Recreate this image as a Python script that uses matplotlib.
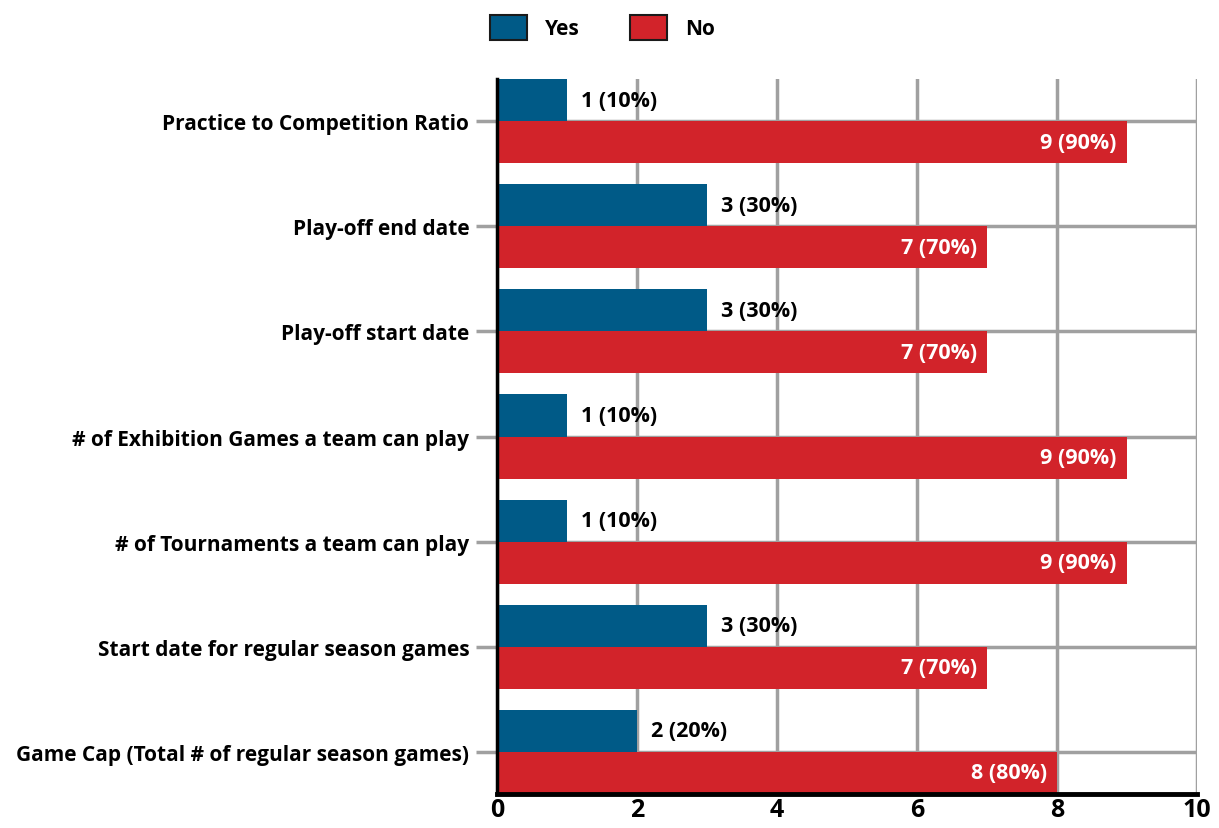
import numpy as np
import matplotlib.pyplot as plt

categories = [
    "Game Cap (Total # of regular season games)",
    "Start date for regular season games",
    "# of Tournaments a team can play",
    "# of Exhibition Games a team can play",
    "Play-off start date",
    "Play-off end date",
    "Practice to Competition Ratio",
]
yes_counts = [2, 3, 1, 1, 3, 3, 1]
no_counts = [8, 7, 9, 9, 7, 7, 9]
total = 10

blue = "#005a87"
red = "#d2232a"
grid_col = "#a0a0a0"

plt.rcParams["font.family"] = ["Open Sans", "DejaVu Sans"]
plt.rcParams["font.weight"] = "bold"

fig = plt.figure(figsize=(12.19, 8.29), dpi=100)
ax = fig.add_axes([0.4077, 0.041, 0.5745, 0.8625])

y = np.arange(len(categories))
h = 0.4
ax.barh(y + h / 2, yes_counts, height=h, color=blue, label="Yes", zorder=3)
ax.barh(y - h / 2, no_counts, height=h, color=red, label="No", zorder=3)

# value labels: Yes outside the bar, No inside in white
for yi, v in zip(y, yes_counts):
    ax.text(v + 0.2, yi + h / 2, f"{v} ({v * 100 // total}%)", va="center", ha="left",
            fontsize=15.5, fontweight="bold", color="black", zorder=4)
for yi, v in zip(y, no_counts):
    ax.text(v - 0.15, yi - h / 2, f"{v} ({v * 100 // total}%)", va="center", ha="right",
            fontsize=15.5, fontweight="bold", color="white", zorder=4)

ax.set_xlim(0, 10)
ax.set_ylim(-h, len(categories) - 1 + h)
ax.set_xticks([0, 2, 4, 6, 8, 10])
ax.set_yticks(y)
ax.set_yticklabels(categories, fontsize=15, fontweight="bold")
ax.tick_params(axis="x", length=0, labelsize=18, pad=2)
ax.tick_params(axis="y", length=15, width=2.5, color=grid_col, pad=5)
for lab in ax.get_xticklabels():
    lab.set_fontweight("bold")

ax.grid(True, color=grid_col, linewidth=2.5, zorder=1)
for side in ["top", "right"]:
    ax.spines[side].set_visible(False)
ax.spines["left"].set_linewidth(2.5)
ax.spines["bottom"].set_linewidth(3.5)
ax.spines["left"].set_zorder(5)
ax.spines["bottom"].set_zorder(5)

leg = fig.legend(loc="center", bbox_to_anchor=(0.494, 0.966), ncol=2, frameon=False,
                 fontsize=15, handlelength=1.8, handleheight=1.45, handletextpad=0.85,
                 columnspacing=2.4)
for p in leg.get_patches():
    p.set_edgecolor("#1a1a1a")
    p.set_linewidth(1.5)

fig.savefig("out.png", dpi=100)
